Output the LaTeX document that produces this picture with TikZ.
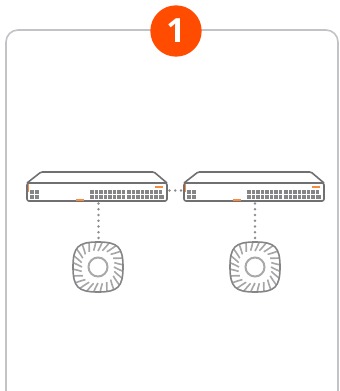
\documentclass[tikz,border=0pt]{standalone}
\usepackage{fontspec}
\setmainfont{Open Sans}
\definecolor{frameg}{RGB}{194,195,199}
\definecolor{dev}{RGB}{112,112,115}
\definecolor{orng}{RGB}{255,76,0}
\definecolor{barorg}{RGB}{247,140,65}
\tikzset{
  devline/.style={draw=dev,line width=1.2pt,line join=round},
  linkdots/.style={draw=dev!80,line width=2.1pt,line cap=round,dash pattern=on 0pt off 4.3pt},
  portsq/.style={fill=dev!85,draw=none},
  blade/.style={draw=dev!62,line width=1.2pt},
}
\newcommand{\switchunit}[2]{%
 \begin{scope}[shift={(#1,#2)}]
  \draw[devline,rounded corners=1pt] (0,11)--(14,0)--(127,0)--(140,11);
  \draw[devline,rounded corners=1.5pt] (0,11) rectangle (140,29);
  \foreach \c in {0,1}\foreach \r in {0,1}
    \fill[portsq] (3+4.8*\c,18+4.6*\r) rectangle +(4.1,3.9);
  \foreach \c in {0,...,7}\foreach \r in {0,1}{
    \fill[portsq] (63+4.5*\c,18+4.6*\r) rectangle +(3.8,3.9);
    \fill[portsq] (100+4.5*\c,18+4.6*\r) rectangle +(3.8,3.9);}
  \fill[portsq] (135.2,23) rectangle +(1.4,4);
  \fill[barorg] (128,14.2) rectangle +(8,2);
  \fill[barorg] (49,26.6) rectangle +(8,2);
  \fill[barorg] (.5,12) rectangle +(1.8,8);
 \end{scope}}
\newcommand{\apunit}[2]{%
 \begin{scope}[shift={(#1,#2)}]
  \foreach \a in {0,15,...,345}{
    \pgfmathsetmacro{\rr}{24.5+3*abs(sin(2*(\a+10)))}
    \pgfmathsetmacro{\ri}{16+1.8*abs(sin(2*\a))}
    \draw[blade] (\a:\ri) .. controls (\a+5:\ri+3) and (\a+8:\rr-3) .. (\a+10:\rr);}
  \draw[draw=dev!85,line width=1.2pt]
    (0,-25) .. controls (20,-25) and (25,-20) .. (25,0)
    .. controls (25,20) and (20,25) .. (0,25)
    .. controls (-20,25) and (-25,20) .. (-25,0)
    .. controls (-25,-20) and (-20,-25) .. (0,-25) -- cycle;
  \draw[draw=dev!60,line width=1.5pt] (0,0) circle (9.5);
 \end{scope}}
\begin{document}
\begin{tikzpicture}[x=0.75pt,y=-0.75pt]
\useasboundingbox (0,0) rectangle (339,391);
\draw[frameg,line width=1.2pt,rounded corners=9pt] (6,391.5) -- (6,30) -- (338,30) -- (338,391.5);
\node[circle,fill=orng,minimum size=38.5pt,inner sep=0pt,text=white,font=\fontsize{25}{25}\selectfont\bfseries] (badge) at (176,31) {1};
\switchunit{27}{172}
\switchunit{184}{172}
\apunit{98}{267}
\apunit{255}{267}
\coordinate (s1b) at (98.5,203.5);
\coordinate (a1t) at (98.5,241);
\coordinate (s2b) at (255,203.5);
\coordinate (a2t) at (255,241);
\coordinate (s1r) at (169.5,190.5);
\coordinate (s2l) at (182,190.5);
\draw[linkdots] (s1b) -- (a1t);
\draw[linkdots] (s2b) -- (a2t);
\draw[linkdots] (s1r) -- (s2l);
\end{tikzpicture}
\end{document}
